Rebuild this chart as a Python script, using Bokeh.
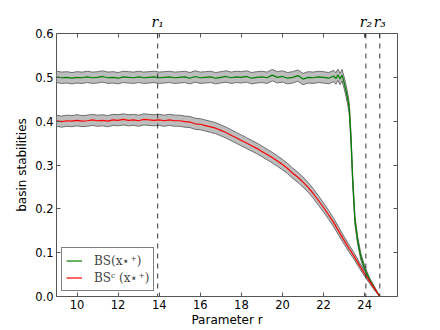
import numpy as np
from bokeh.plotting import figure
from bokeh.models import (ColumnDataSource, Span, Legend, LegendItem,
                          LinearAxis, FixedTicker, PrintfTickFormatter, Range1d)
from bokeh.embed import file_html
from bokeh.resources import INLINE

# ---------------- data ----------------
N_SAMPLES = 1500  # samples per parameter value (binomial standard error band)

r_red = [9.0, 9.25, 9.5, 9.75, 10.0, 10.25, 10.5, 10.75, 11.0, 11.25, 11.5, 11.75,
         12.0, 12.25, 12.5, 12.75, 13.0, 13.25, 13.5, 13.75, 14.0, 14.25, 14.5, 14.75,
         15.0, 15.25, 15.5, 15.75, 16.0, 16.25, 16.5, 16.75, 17.0, 17.25, 17.5, 17.75,
         18.0, 18.25, 18.5, 18.75, 19.0, 19.25, 19.5, 19.75, 20.0, 20.25, 20.5, 20.75,
         21.0, 21.25, 21.5, 21.75, 22.0, 22.25, 22.5, 22.75, 23.0, 23.25, 23.5, 23.75,
         24.0, 24.25, 24.5, 24.74]
bs_c = [0.401, 0.399, 0.401, 0.400, 0.402, 0.400, 0.401, 0.403, 0.401, 0.402, 0.400, 0.403,
        0.402, 0.404, 0.402, 0.403, 0.401, 0.404, 0.403, 0.402, 0.403, 0.401, 0.403, 0.401,
        0.401, 0.399, 0.398, 0.394, 0.393, 0.390, 0.387, 0.384, 0.379, 0.374, 0.368, 0.362,
        0.356, 0.350, 0.344, 0.338, 0.331, 0.324, 0.317, 0.309, 0.301, 0.292, 0.281, 0.272,
        0.261, 0.249, 0.235, 0.219, 0.203, 0.186, 0.168, 0.148, 0.128, 0.109, 0.091, 0.071,
        0.052, 0.034, 0.017, 0.0]

r_green = [9.0, 9.25, 9.5, 9.75, 10.0, 10.25, 10.5, 10.75, 11.0, 11.25, 11.5, 11.75,
           12.0, 12.25, 12.5, 12.75, 13.0, 13.25, 13.5, 13.75, 14.0, 14.25, 14.5, 14.75,
           15.0, 15.25, 15.5, 15.75, 16.0, 16.25, 16.5, 16.75, 17.0, 17.25, 17.5, 17.75,
           18.0, 18.25, 18.5, 18.75, 19.0, 19.25, 19.5, 19.75, 20.0, 20.25, 20.5, 20.75,
           21.0, 21.25, 21.5, 21.75, 22.0, 22.25, 22.5, 22.6, 22.7, 22.8, 22.9, 23.0,
           23.1, 23.2, 23.26, 23.34, 23.42, 23.53, 23.66, 23.82, 23.98, 24.06, 24.25,
           24.5, 24.74]
bs = [0.501, 0.499, 0.500, 0.498, 0.500, 0.499, 0.501, 0.499, 0.500, 0.502, 0.499, 0.500,
      0.498, 0.501, 0.500, 0.499, 0.501, 0.499, 0.500, 0.501, 0.499, 0.500, 0.501, 0.499,
      0.500, 0.501, 0.498, 0.502, 0.499, 0.500, 0.501, 0.498, 0.500, 0.502, 0.499, 0.501,
      0.500, 0.502, 0.498, 0.500, 0.501, 0.499, 0.505, 0.500, 0.502, 0.498, 0.500, 0.504,
      0.496, 0.500, 0.499, 0.501, 0.500, 0.498, 0.503, 0.497, 0.506, 0.496, 0.505, 0.488,
      0.468, 0.445, 0.424, 0.356, 0.265, 0.173, 0.128, 0.090, 0.067, 0.057, 0.037,
      0.017, 0.0]

x_ticks = [10, 12, 14, 16, 18, 20, 22, 24]
y_ticks = [0.0, 0.1, 0.2, 0.3, 0.4, 0.5, 0.6]
crit_r = [13.926, 24.06, 24.74]
crit_labels = ["r\u2081", "r\u2082", "r\u2083"]
legend_labels = ["BS(x\u22c6\u207a)", "BS\u1d9c (x\u22c6\u207a)"]


def band(r, p):
    p = np.asarray(p)
    e = np.sqrt(p * (1 - p) / N_SAMPLES)
    return ColumnDataSource(dict(x=r, y=p, lo=p - e, hi=p + e))


src_g = band(r_green, bs)
src_r = band(r_red, bs_c)

# ---------------- figure ----------------
p = figure(frame_width=341, frame_height=263, output_backend="svg",
           toolbar_location=None,
           x_range=Range1d(9, 25.6), y_range=Range1d(0, 0.6),
           x_axis_location=None, y_axis_location=None)
p.margin = (10, 0, -8, 12)
p.background_fill_color = "white"
p.border_fill_color = "white"
p.grid.visible = False
p.outline_line_color = "#555555"
p.outline_line_width = 1

for src in (src_g, src_r):
    p.varea(x="x", y1="lo", y2="hi", source=src, fill_color="#bdbdbd")
    p.line(x="x", y="lo", source=src, line_color="#6e6e6e", line_width=1)
    p.line(x="x", y="hi", source=src, line_color="#6e6e6e", line_width=1)

lg = p.line(x="x", y="y", source=src_g, line_color="#008000", line_width=1.2)
lr = p.line(x="x", y="y", source=src_r, line_color="#ff0000", line_width=1.2)

for rv in crit_r:
    p.add_layout(Span(location=rv, dimension="height", line_color="#333333",
                      line_dash="5 5", line_width=1))


def style_axis(ax):
    ax.axis_line_color = None
    ax.major_tick_in = 4
    ax.major_tick_out = 0
    ax.minor_tick_line_color = None
    ax.major_tick_line_color = "#555555"
    ax.major_label_text_font = "DejaVu Sans"
    ax.major_label_text_font_size = "11.5px"
    ax.major_label_text_color = "black"
    ax.axis_label_text_font = "DejaVu Sans"
    ax.axis_label_text_font_size = "12px"
    ax.axis_label_text_font_style = "normal"
    ax.axis_label_text_color = "black"


bottom = LinearAxis(ticker=FixedTicker(ticks=x_ticks), axis_label="Parameter r")
style_axis(bottom)
bottom.major_label_standoff = 3
bottom.axis_label_standoff = 1
p.add_layout(bottom, "below")

left = LinearAxis(ticker=FixedTicker(ticks=y_ticks), axis_label="basin stabilities",
                  formatter=PrintfTickFormatter(format="%.1f"))
style_axis(left)
left.major_label_standoff = 3
left.axis_label_standoff = 3
p.add_layout(left, "left")

# top axis: mirrored ticks + critical parameter labels
top = LinearAxis(ticker=FixedTicker(ticks=x_ticks + crit_r))
style_axis(top)
top.major_label_overrides = {**{t: "" for t in x_ticks},
                             **{r: l for r, l in zip(crit_r, crit_labels)}}
top.major_label_text_font = "DejaVu Serif"
top.major_label_text_font_style = "italic"
top.major_label_text_font_size = "14px"
top.major_label_standoff = 4
p.add_layout(top, "above")

right = LinearAxis(ticker=FixedTicker(ticks=y_ticks),
                   major_label_overrides={t: "" for t in y_ticks})
style_axis(right)
right.major_label_standoff = 0
p.add_layout(right, "right")

legend = Legend(items=[LegendItem(label=legend_labels[0], renderers=[lg]),
                       LegendItem(label=legend_labels[1], renderers=[lr])],
                location="bottom_left", margin=5, padding=4, spacing=0,
                glyph_width=16, glyph_height=17, label_height=17,
                label_standoff=12, border_line_color="black",
                border_line_width=1, label_text_font="DejaVu Serif",
                label_text_font_size="12px", background_fill_alpha=1)
p.add_layout(legend, "center")

open("out.html", "w").write(file_html(p, INLINE))
